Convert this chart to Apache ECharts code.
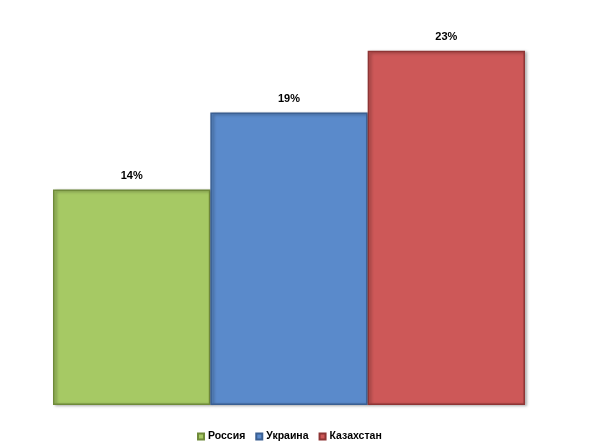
<!DOCTYPE html>
<html><head><meta charset="utf-8">
<script src="https://cdn.jsdelivr.net/npm/echarts@6/dist/echarts.min.js"></script>
<style>html,body{margin:0;padding:0;background:#fff}#c{width:600px;height:448px}</style>
</head><body><div id="c"></div>
<script>
const categories = ['Россия', 'Украина', 'Казахстан'];
const values = [14, 19, 23];
const colors = ['#a6c964', '#5a8acb', '#cd5858'];
const borders = ['#6f8a3a', '#3a5f92', '#8e3535'];

const chart = echarts.init(document.getElementById('c'));
const series = categories.map((name, i) => ({
  name: name,
  type: 'bar',
  stack: 'all',
  barWidth: '100%',
  data: categories.map((c, j) => (j === i ? values[i] : null)),
  itemStyle: {
    color: colors[i],
    borderColor: borders[i],
    borderWidth: 1.5,
    shadowColor: 'rgba(0,0,0,0.35)',
    shadowBlur: 3,
    shadowOffsetX: 2,
    shadowOffsetY: 1
  },
  label: {
    show: true,
    position: 'top',
    distance: 8,
    formatter: p => p.value + '%',
    color: '#000',
    fontFamily: 'Liberation Sans',
    fontWeight: 'bold',
    fontSize: 11
  }
}));
chart.setOption({
  animation: false,
  color: colors,
  grid: { left: 53, right: 75, top: 44, bottom: 43 },
  xAxis: {
    type: 'category',
    data: categories,
    axisLine: { show: false },
    axisTick: { show: false },
    axisLabel: { show: false }
  },
  yAxis: {
    type: 'value',
    min: 0,
    max: 23.44,
    show: false,
    splitLine: { show: false }
  },
  legend: {
    data: categories,
    left: 192,
    top: 426,
    itemWidth: 6,
    itemHeight: 6,
    itemGap: 10,
    icon: 'rect',
    textStyle: { fontFamily: 'Liberation Sans', fontWeight: 'bold', fontSize: 10.5, color: '#000', padding: [0, 0, 0, -1] }
  },
  series: series
});
</script></body></html>
